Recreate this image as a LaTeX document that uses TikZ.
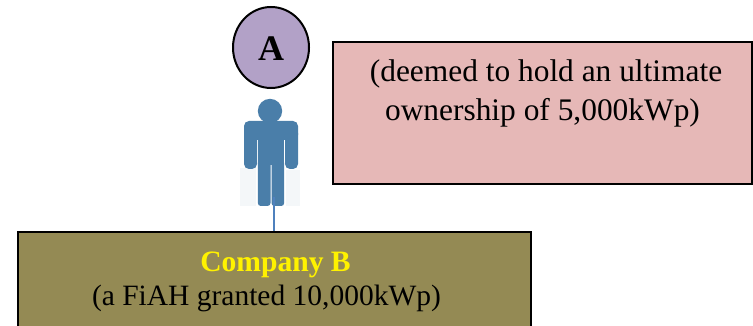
\documentclass[tikz,border=0pt]{standalone}
\usepackage{fontspec}
\usetikzlibrary{shapes.geometric}
\setmainfont{Liberation Serif}
\definecolor{olivebox}{HTML}{948A54}
\definecolor{pinkbox}{HTML}{E6B8B7}
\definecolor{lilac}{HTML}{B2A1C7}
\definecolor{manblue}{HTML}{4A7EA9}
\definecolor{linkblue}{HTML}{4F81BD}
\definecolor{haze}{HTML}{F4F7F9}
\tikzset{
  boxstyle/.style={draw=black,line width=2.6pt,inner sep=0pt,minimum width=#1},
  txt/.style={inner sep=0pt,anchor=base,text=black},
  txtb/.style={txt,font=\fontsize{29.5pt}{32pt}\selectfont},
  txtp/.style={txt,font=\fontsize{31.4pt}{34pt}\selectfont},
  man/.style={fill=manblue,draw=none},
}
\begin{document}
\begin{tikzpicture}[x=1pt,y=-1pt]
\useasboundingbox (0,0) rectangle (753,326);
% person picture
\fill[haze] (240,168) rectangle (256,206);
\fill[haze] (286,170) rectangle (300,206);
\fill[man] (270,111) circle [radius=12.2];
\fill[man,rounded corners=5pt] (244,121) rectangle (298,140);
\fill[man,rounded corners=5pt] (244,128) rectangle (257,169);
\fill[man,rounded corners=5pt] (285,128) rectangle (298,169);
\fill[man] (257.8,125) rectangle (284.2,165);
\fill[man,rounded corners=3pt] (257.8,160) rectangle (270.5,206);
\fill[man,rounded corners=3pt] (271.5,160) rectangle (284.2,206);
\coordinate (foot) at (274,197);
% nodes
\node[boxstyle=513pt,fill=olivebox,minimum height=120pt] (b) at (274.5,292) {};
\node[boxstyle=419pt,fill=pinkbox,minimum height=142pt] (p) at (542.5,113) {};
\node[draw=black,line width=2pt,fill=lilac,ellipse,minimum width=76pt,minimum height=81pt,inner sep=0pt] (a) at (271,47.5) {};
\node[txt,font=\fontsize{36pt}{38pt}\selectfont\bfseries] (atxt) at (271,61) {A};
\draw[linkblue,line width=1.3pt] (foot) -- (foot |- b.north);
\node[txtb,font=\fontsize{29.6pt}{32pt}\selectfont\bfseries,text=yellow] (b1) at (275.5,271) {Company B};
\node[txtb] (b2) at (266.5,305) {(a FiAH granted 10,000kWp)};
\node[txtp] (p1) at (546,82) {(deemed to hold an ultimate};
\node[txtp] (p2) at (542.5,121) {ownership of 5,000kWp)};
\end{tikzpicture}
\end{document}
